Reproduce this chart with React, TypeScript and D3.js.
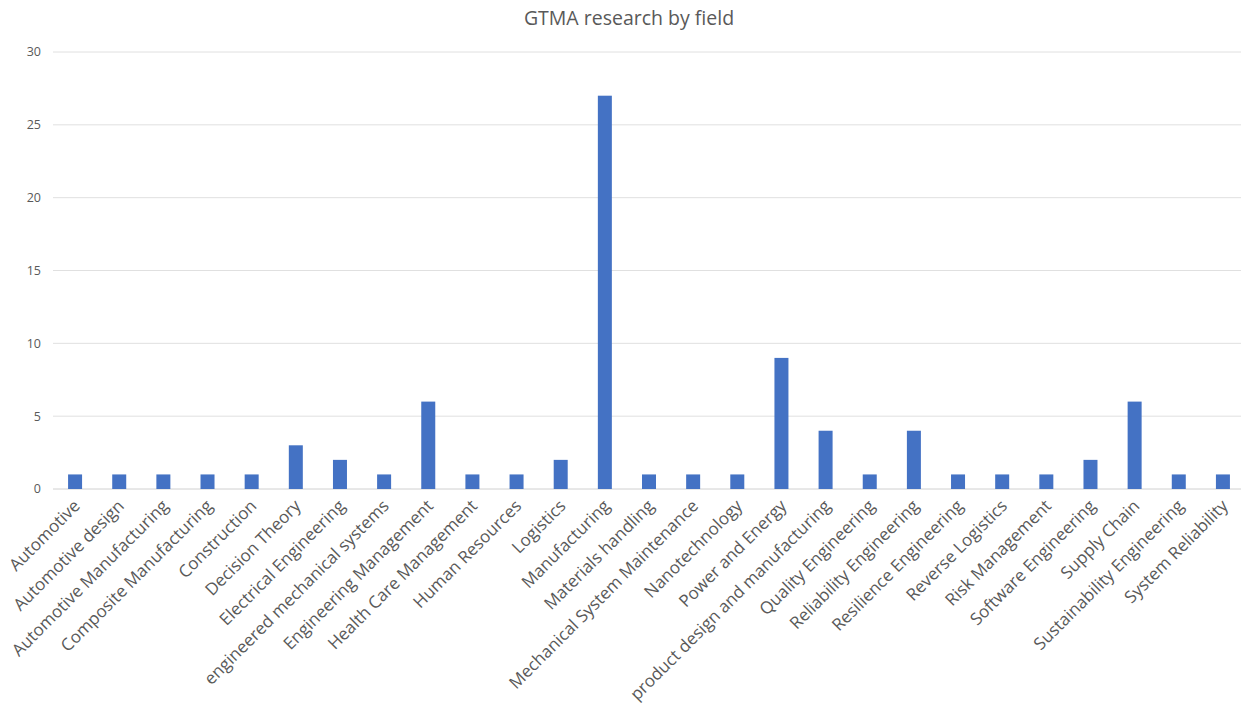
import React from "react";
import * as d3 from "d3";

const categories = [
  "Automotive", "Automotive design", "Automotive Manufacturing", "Composite Manufacturing",
  "Construction", "Decision Theory", "Electrical Engineering", "engineered mechanical systems",
  "Engineering Management", "Health Care Management", "Human Resources", "Logistics",
  "Manufacturing", "Materials handling", "Mechanical System Maintenance", "Nanotechnology",
  "Power and Energy", "product design and manufacturing", "Quality Engineering",
  "Reliability Engineering", "Resilience Engineering", "Reverse Logistics", "Risk Management",
  "Software Engineering", "Supply Chain", "Sustainability Engineering", "System Reliability",
];
const values = [1, 1, 1, 1, 1, 3, 2, 1, 6, 1, 1, 2, 27, 1, 1, 1, 9, 4, 1, 4, 1, 1, 1, 2, 6, 1, 1];
const yTicks = [0, 5, 10, 15, 20, 25, 30];
const title = "GTMA research by field";

const W = 1241, H = 707;
const left = 53, right = 1245, top = 52, bottom = 489;
const font = "'Open Sans', 'Segoe UI', sans-serif";

export default function App() {
  const x = d3.scaleBand<string>().domain(categories).range([left, right]).paddingInner(0).paddingOuter(0);
  const y = d3.scaleLinear().domain([0, 30]).range([bottom, top]);
  const bw = 14;
  return (
    <div style={{ position: "absolute", left: 0, top: 0 }}>
      <svg width={W} height={H} style={{ display: "block", background: "#fff" }}>
        <text x={629} y={25} textAnchor="middle" fontFamily={font} fontSize={19.5} fill="#595959">{title}</text>
        {yTicks.map((t) => (
          <g key={t}>
            <line x1={left} x2={W} y1={y(t)} y2={y(t)} stroke={t === 0 ? "#d0d0d0" : "#e0e0e0"} strokeWidth={1} />
            <text x={41} y={y(t)} dy="0.35em" textAnchor="end" fontFamily={font} fontSize={12.5} fill="#595959">{t}</text>
          </g>
        ))}
        {categories.map((c, i) => {
          const cx = (x(c) as number) + x.bandwidth() / 2;
          return (
            <g key={c}>
              <rect x={cx - bw / 2} y={y(values[i])} width={bw} height={bottom - y(values[i])} fill="#4472C4" />
              <text
                transform={`translate(${cx + 6},${507}) rotate(-45)`}
                textAnchor="end"
                fontFamily={font}
                fontSize={17}
                fill="#595959"
              >{c}</text>
            </g>
          );
        })}
      </svg>
    </div>
  );
}
